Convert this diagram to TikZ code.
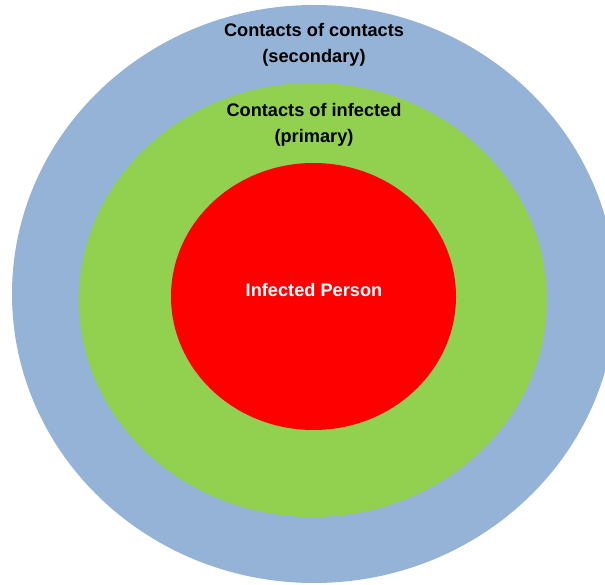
\documentclass[tikz,border=0pt]{standalone}
\usepackage{fontspec}
\setmainfont{Liberation Sans}
\definecolor{outerblue}{HTML}{95B3D7}
\definecolor{midgreen}{HTML}{92D050}
\definecolor{innerred}{HTML}{FF0000}
\begin{document}
\begin{tikzpicture}[x=1pt,y=-1pt,
  lab/.style={font=\fontsize{18.2}{26}\selectfont\bfseries, align=center, text=black, inner sep=0pt}]
\useasboundingbox (0,0) rectangle (605,585);
\fill[outerblue] (314,294) ellipse [x radius=302, y radius=289];
\fill[midgreen] (313,300) ellipse [x radius=234, y radius=217];
\fill[innerred] (313.5,296.5) ellipse [x radius=142.5, y radius=133.5];
\node[lab] (sec) at (314,45) {Contacts of contacts\\(secondary)};
\node[lab] (pri) at (314,125) {Contacts of infected\\(primary)};
\node[lab, text=white] (inf) at (314,290) {Infected Person};
\end{tikzpicture}
\end{document}
